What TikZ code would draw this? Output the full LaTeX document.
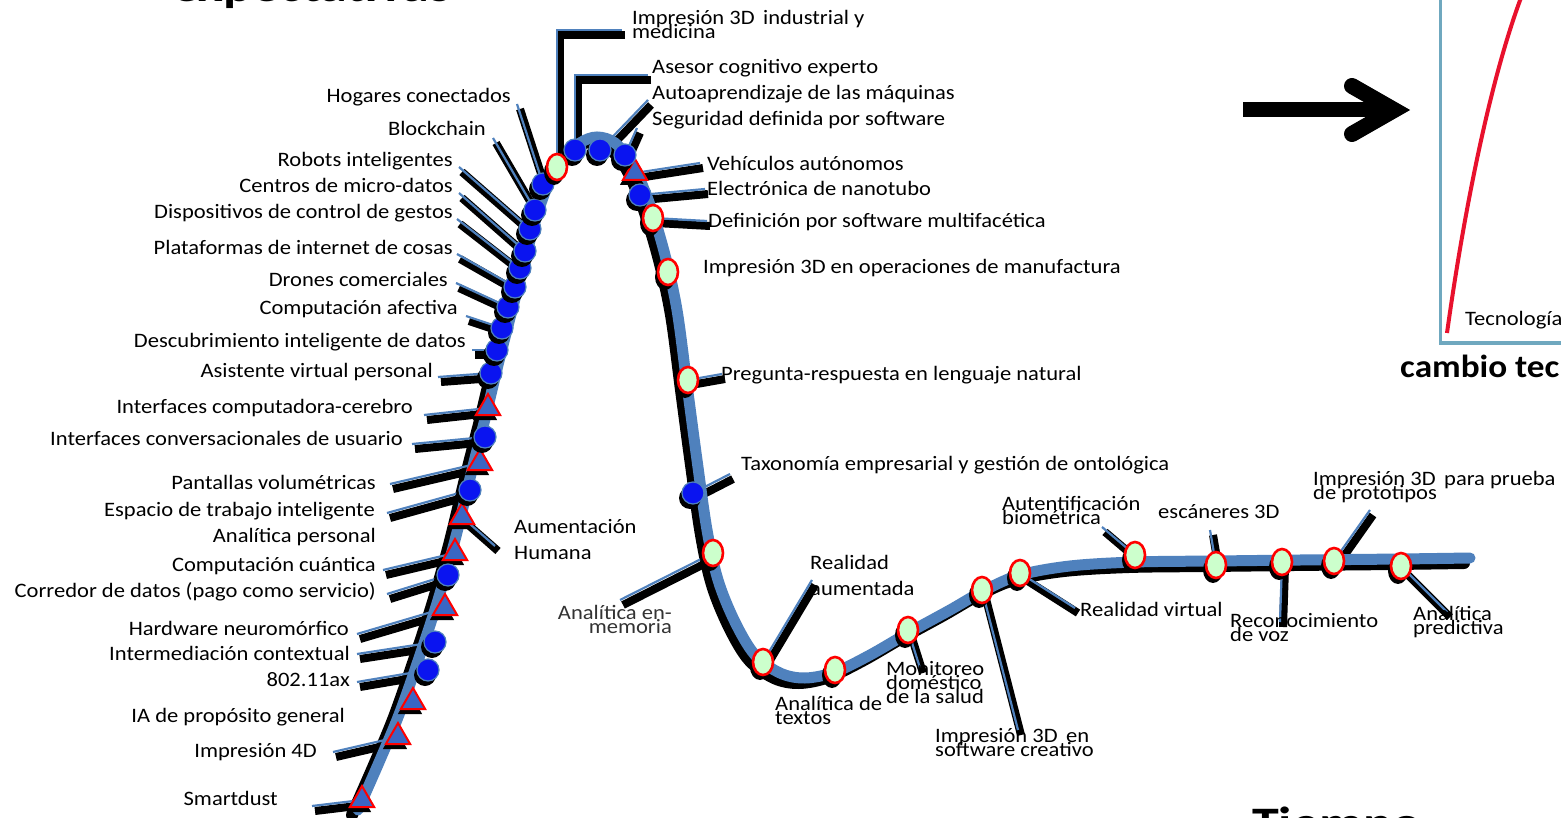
\documentclass[tikz,border=0pt]{standalone}
\usepackage{fontspec}
\setmainfont{Carlito}[FakeStretch=1.1]
\newfontfamily\bigf{Carlito}[FakeStretch=1.2]
\usetikzlibrary{shapes.geometric,shadows}
\definecolor{lblue}{HTML}{4F81BD}
\definecolor{mblue}{HTML}{0A14F0}
\definecolor{tblue}{HTML}{3A66C4}
\definecolor{lgreen}{HTML}{CCFFCC}
\definecolor{mred}{HTML}{FF0000}
\definecolor{boxc}{HTML}{6FA8BF}
\definecolor{cred}{HTML}{E8112D}
\newcommand\tightfont{\fontsize{20.5}{14}\selectfont\lineskiplimit=-60pt\relax\lineskip=0pt\relax}
\begin{document}
\begin{tikzpicture}[x=1pt,y=-1pt,
  lbl/.style={inner sep=0pt, font=\fontsize{20.5}{24}\selectfont},
  tl/.style={inner sep=0pt, align=left, font=\tightfont},
  nl/.style={inner sep=0pt, align=left, font=\fontsize{20.5}{26}\selectfont},
  lsh/.style={black, line width=8pt},
  lead/.style={lblue, line width=2.2pt},
  msh/.style={general shadow={fill=black, shadow xshift=-3pt, shadow yshift=-5pt}},
  circ/.style={circle, msh, fill=mblue, draw=lblue, line width=1.2pt, minimum size=22pt, inner sep=0pt},
  tri/.style={regular polygon, regular polygon sides=3, msh, fill=tblue, draw=mred, line width=2pt, minimum size=28pt, inner sep=0pt},
  oval/.style={ellipse, msh, fill=lgreen, draw=mred, line width=2.6pt, minimum width=20pt, minimum height=26pt, inner sep=0pt},
  bigt/.style={inner sep=0pt, font=\bigf\bfseries\fontsize{45}{50}\selectfont}
]
\useasboundingbox (0,0) rectangle (1561,818);
\clip (0,0) rectangle (1561,818);
\fill[white] (0,0) rectangle (1561,818);

% marker positions
\foreach \n/\x/\y in {1/362/800,2/398/737,3/413/702,4/428/670,5/435/642,6/445/608,7/448/575,8/455/553,9/462/517,10/470/490,11/480/463,12/485/437,13/488/408,14/491/373,15/497/350,16/502/328,17/508/307,18/515/287,19/520/268,20/525/251,21/530/229,22/535/210,23/543/184,24/557/167,25/575/150,26/600/150,27/625/155,28/635/173,29/640/195,30/653/218,31/668/272,32/688/380,33/693/493,34/713/553,35/763/662,36/835/670,37/908/630,38/982/590,39/1020/573,40/1135/555,41/1216/565,42/1282/562,43/1334/561,44/1401/566}
  {\coordinate (p\n) at (\x,\y);}
% leader free ends
\foreach \n/\x/\y in {1/517/104,2/493/138,3/459/167,4/459/193,5/457/219,6/457/254,7/456/283,8/466/316,9/472/350,10/438/377,11/424/415,12/412/444,13/390/484,14/387/513,15/495/546,16/383/570,17/387/594,18/357/634,19/357/654,20/357/682,21/333/752,22/312/806,23/622/30,24/648/75,25/648/100,26/637/128,27/700/163,28/705/189,29/707/221,30/722/374,31/730/474,32/620/600,33/812/580,34/920/668,35/1018/730,36/1075/608,37/1102/527,38/1210/530,39/1280/622,40/1370/510,41/1447/612}
  {\coordinate (l\n) at (\x,\y);}

\def\curvepts{(358,810) (380,760) (400,712) (420,655) (438,600) (455,540) (472,470) (486,415) (498,365) (510,318) (523,268) (535,222) (548,185) (563,160) (580,143) (597,137) (615,143) (633,165) (650,205) (665,255) (677,310) (687,385) (697,460) (707,530) (718,580) (735,622) (755,655) (780,673) (805,678) (835,672) (870,655) (908,633) (950,610) (985,590) (1020,575) (1070,566) (1135,562) (1216,561) (1300,560) (1400,559) (1470,558)}

% curve shadow
\draw[black, line width=12pt, line cap=round, shift={(-6,5)}] plot[smooth, tension=0.55] coordinates {\curvepts};

\def\straightleads{l1/p23,l2/p22,l3/p21,l4/p20,l5/p19,l6/p18,l7/p17,l8/p16,l9/p15,l10/p14,l11/p13,l12/p12,l13/p11,l14/p10,l15/p9,l16/p8,l17/p7,l18/p6,l19/p5,l20/p4,l21/p2,l22/p1,l25/p26,l26/p27,l27/p28,l28/p29,l29/p30,l30/p32,l31/p33,l32/p34,l33/p35,l34/p37,l35/p38,l36/p39,l37/p40,l38/p41,l39/p42,l40/p43,l41/p44}
% leader shadows
\foreach \a/\b in \straightleads
  {\draw[lsh] ([shift={(3,5)}]\a) -- ([shift={(3,5)}]\b);}
\draw[lsh] ([shift={(3,5)}]l23) -| ([shift={(3,5)}]p24);
\draw[lsh] ([shift={(3,5)}]l24) -| ([shift={(3,5)}]p25);

% blue curve
\draw[lblue, line width=11pt, line cap=round] plot[smooth, tension=0.55] coordinates {\curvepts};

% blue leaders
\foreach \a/\b in \straightleads {\draw[lead] (\a) -- (\b);}
\draw[lead] (l23) -| (p24);
\draw[lead] (l24) -| (p25);

% markers
\foreach \n in {1,2,3,6,8,9,11,13,28} {\node[tri] (m\n) at (p\n) {};}
\foreach \n in {4,5,7,10,12,14,15,16,17,18,19,20,21,22,23,25,26,27,29,33} {\node[circ] (m\n) at (p\n) {};}
\foreach \n in {24,30,31,32,34,35,36,37,38,39,40,41,42,43,44} {\node[oval] (m\n) at (p\n) {};}

% left labels
\foreach \t/\x/\y [count=\i] in {Hogares conectados/511/103, Blockchain/486/136, Robots inteligentes/453/167, Centros de micro-datos/453/193, Dispositivos de control de gestos/453/219, Plataformas de internet de cosas/453/255, Drones comerciales/448/287, Computación afectiva/458/315, Descubrimiento inteligente de datos/466/348, Asistente virtual personal/433/377, Interfaces computadora-cerebro/413/413, Interfaces conversacionales de usuario/403/445, Pantallas volumétricas/376/489, Espacio de trabajo inteligente/375/516, Analítica personal/376/542, Computación cuántica/376/571, {Corredor de datos (pago como servicio)}/376/597, Hardware neuromórfico/349/635, Intermediación contextual/350/660, 802.11ax/350/686, IA de propósito general/345/722, Impresión 4D/317/757, Smartdust/278/805}
  {\node[lbl, anchor=base east] (tl\i) at (\x,\y) {\t};}

% right labels
\foreach \t/\x/\y [count=\i] in {Asesor cognitivo experto/652/74, Autoaprendizaje de las máquinas/652/100, Seguridad definida por software/652/126, Vehículos autónomos/707/171, Electrónica de nanotubo/707/196, Definición por software multifacética/708/228, Impresión 3D en operaciones de manufactura/703/274, Pregunta-respuesta en lenguaje natural/721/380, Taxonomía empresarial y gestión de ontológica/741/470, Realidad virtual/1080/616, escáneres 3D/1158/518}
  {\node[lbl, anchor=base west] (tr\i) at (\x,\y) {\t};}

\node[tl, anchor=north west] (t3di) at (632,10.5) {Impresión 3D\, industrial y\\medicina};
\node[tl, anchor=north west] (tbio) at (1002,496) {Autentificación\\biométrica};
\node[tl, anchor=north west] (tmon) at (886,661) {Monitoreo\\doméstico\\de la salud};
\node[tl, anchor=north west] (tsw) at (935,728) {Impresión 3D\, en\\software creativo};
\node[tl, anchor=north west] (tvoz) at (1230,613) {Reconocimiento\\de voz};
\node[tl, anchor=north west] (tpro) at (1313,471) {Impresión 3D\, para prueba\\de prototipos};
\node[tl, anchor=north west] (tpred) at (1413,606) {Analítica\\predictiva};
\node[tl, anchor=north west] (ttex) at (775,696) {Analítica de\\textos};
\node[tl, anchor=north east, align=right, text=black!80] (tmem) at (672,605) {Analítica en-\\memoria};
\node[nl, anchor=north west] (thum) at (514,519.5) {Aumentación\\Humana};
\node[nl, anchor=north west] (traum) at (810,555.5) {Realidad\\aumentada};

% right-hand panel
\coordinate (a0) at (1243,110);
\coordinate (a1) at (1388,110);
\coordinate (h1) at (1352,86);
\coordinate (h2) at (1394,110);
\coordinate (h3) at (1352,134);
\draw[black, line width=15pt] (a0) -- (a1);
\draw[black, line width=16pt, line cap=round, miter limit=10] (h1) -- (h2) -- (h3);
\draw[boxc, line width=3pt] (1440,-5) -- (1440,343) -- (1570,343);
\draw[cred, line width=4pt] (1447,333) .. controls (1462,225) and (1488,85) .. (1522,-5);
\node[lbl, anchor=base west] (ttec) at (1465,326) {Tecnologías};
\node[inner sep=0pt, anchor=base west, font=\bfseries\fontsize{32}{36}\selectfont] (tcam) at (1400,377) {cambio tecnológico};
\node[bigt, anchor=base west] (ttie) at (1252,838) {Tiempo};
\node[bigt, anchor=base west] (texp) at (172,2) {expectativas};
\end{tikzpicture}
\end{document}
